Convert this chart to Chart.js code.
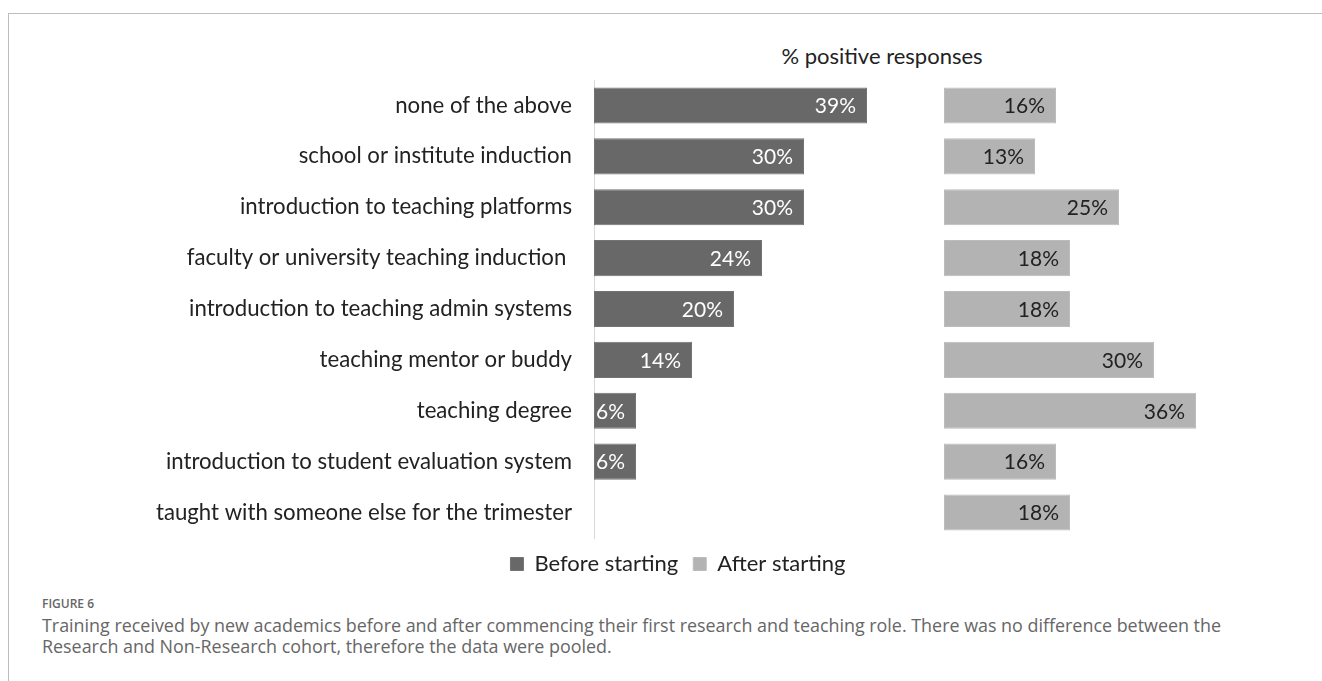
<!DOCTYPE html>
<html lang="en">
<head>
    <meta charset="UTF-8">
    <title>Training received</title>
    <script src="https://cdn.jsdelivr.net/npm/chart.js"></script>
    <style>
        body { margin: 0; background: #fff; width: 1322px; height: 681px; overflow: hidden; position: relative; font-family: Lato, sans-serif; }
        #frame { position: absolute; left: 8px; top: 13px; right: -2px; bottom: -2px; border-top: 1px solid #bdbdbd; border-left: 1px solid #bdbdbd; }
        #wrap { position: absolute; left: 62px; top: 30px; width: 1260px; height: 555px; }
        #title { position: absolute; left: 772px; top: 42px; width: 220px; text-align: center; font-size: 22px; color: #222; white-space: nowrap; }
        #fig { position: absolute; left: 42px; top: 595px; font-family: "Open Sans", sans-serif; font-weight: 600; font-size: 12px; color: #666; }
        #cap { position: absolute; left: 42px; top: 615px; font-family: "Open Sans", sans-serif; font-size: 17.9px; line-height: 21px; color: #666; white-space: nowrap; }
    </style>
</head>
<body>
    <div id="frame"></div>
    <div id="title">% positive responses</div>
    <div id="wrap"><canvas id="myChart"></canvas></div>
    <div id="fig">FIGURE 6</div>
    <div id="cap">Training received by new academics before and after commencing their first research and teaching role. There was no difference between the<br>Research and Non-Research cohort, therefore the data were pooled.</div>

<script>
    // Categories and values (% positive responses)
    var categories = [
        'none of the above',
        'school or institute induction',
        'introduction to teaching platforms',
        'faculty or university teaching induction ',
        'introduction to teaching admin systems',
        'teaching mentor or buddy',
        'teaching degree',
        'introduction to student evaluation system',
        'taught with someone else for the trimester'
    ];
    var beforeStarting = [39, 30, 30, 24, 20, 14, 6, 6, 0];
    var afterStarting = [16, 13, 25, 18, 18, 30, 36, 16, 18];
    // second block of bars starts at 50 on the shared axis
    var afterOffset = 50;
    var spacer = beforeStarting.map(function(v) { return afterOffset - v; });

    // draws the % value just inside the end of each bar
    var barLabels = {
        id: 'barLabels',
        afterDatasetsDraw: function(chart) {
            var ctx = chart.ctx;
            ctx.save();
            ctx.font = '21px Lato';
            ctx.textAlign = 'right';
            ctx.textBaseline = 'middle';
            [0, 2].forEach(function(di) {
                var ds = chart.data.datasets[di];
                chart.getDatasetMeta(di).data.forEach(function(bar, i) {
                    if (!ds.data[i]) return;
                    ctx.fillStyle = di === 0 ? '#ffffff' : '#222222';
                    ctx.fillText(ds.data[i] + '%', bar.x - 11, bar.y + 1);
                });
            });
            ctx.restore();
        }
    };

    var ctx = document.getElementById('myChart').getContext('2d');
    var myChart = new Chart(ctx, {
        type: 'bar',
        data: {
            labels: categories,
            datasets: [
                {
                    label: 'Before starting',
                    data: beforeStarting,
                    backgroundColor: '#686868',
                    borderColor: '#737373',
                    borderWidth: 1,
                    borderSkipped: false
                },
                {
                    label: 'spacer',
                    data: spacer,
                    backgroundColor: 'rgba(0,0,0,0)'
                },
                {
                    label: 'After starting',
                    data: afterStarting,
                    backgroundColor: '#b3b3b3',
                    borderColor: '#bcbcbc',
                    borderWidth: 1,
                    borderSkipped: false
                }
            ]
        },
        options: {
            indexAxis: 'y',
            responsive: true,
            maintainAspectRatio: false,
            animation: false,
            barPercentage: 0.71,
            categoryPercentage: 1,
            layout: { padding: { top: 50, right: 28, bottom: 0, left: 0 } },
            scales: {
                x: {
                    stacked: true,
                    display: false,
                    min: 0,
                    max: 100
                },
                y: {
                    stacked: true,
                    grid: { display: false },
                    border: { display: true, color: '#d9d9d9' },
                    ticks: {
                        color: '#222',
                        padding: 14,
                        font: { family: 'Lato', size: 22.2 }
                    },
                    afterFit: function(scale) { scale.width = 532; }
                }
            },
            plugins: {
                tooltip: { enabled: false },
                legend: {
                    position: 'bottom',
                    labels: {
                        color: '#222',
                        boxWidth: 13,
                        boxHeight: 13,
                        padding: 15,
                        font: { family: 'Lato', size: 22 },
                        filter: function(item) { return item.text !== 'spacer'; }
                    }
                }
            }
        },
        plugins: [barLabels]
    });
</script>
</body>
</html>
